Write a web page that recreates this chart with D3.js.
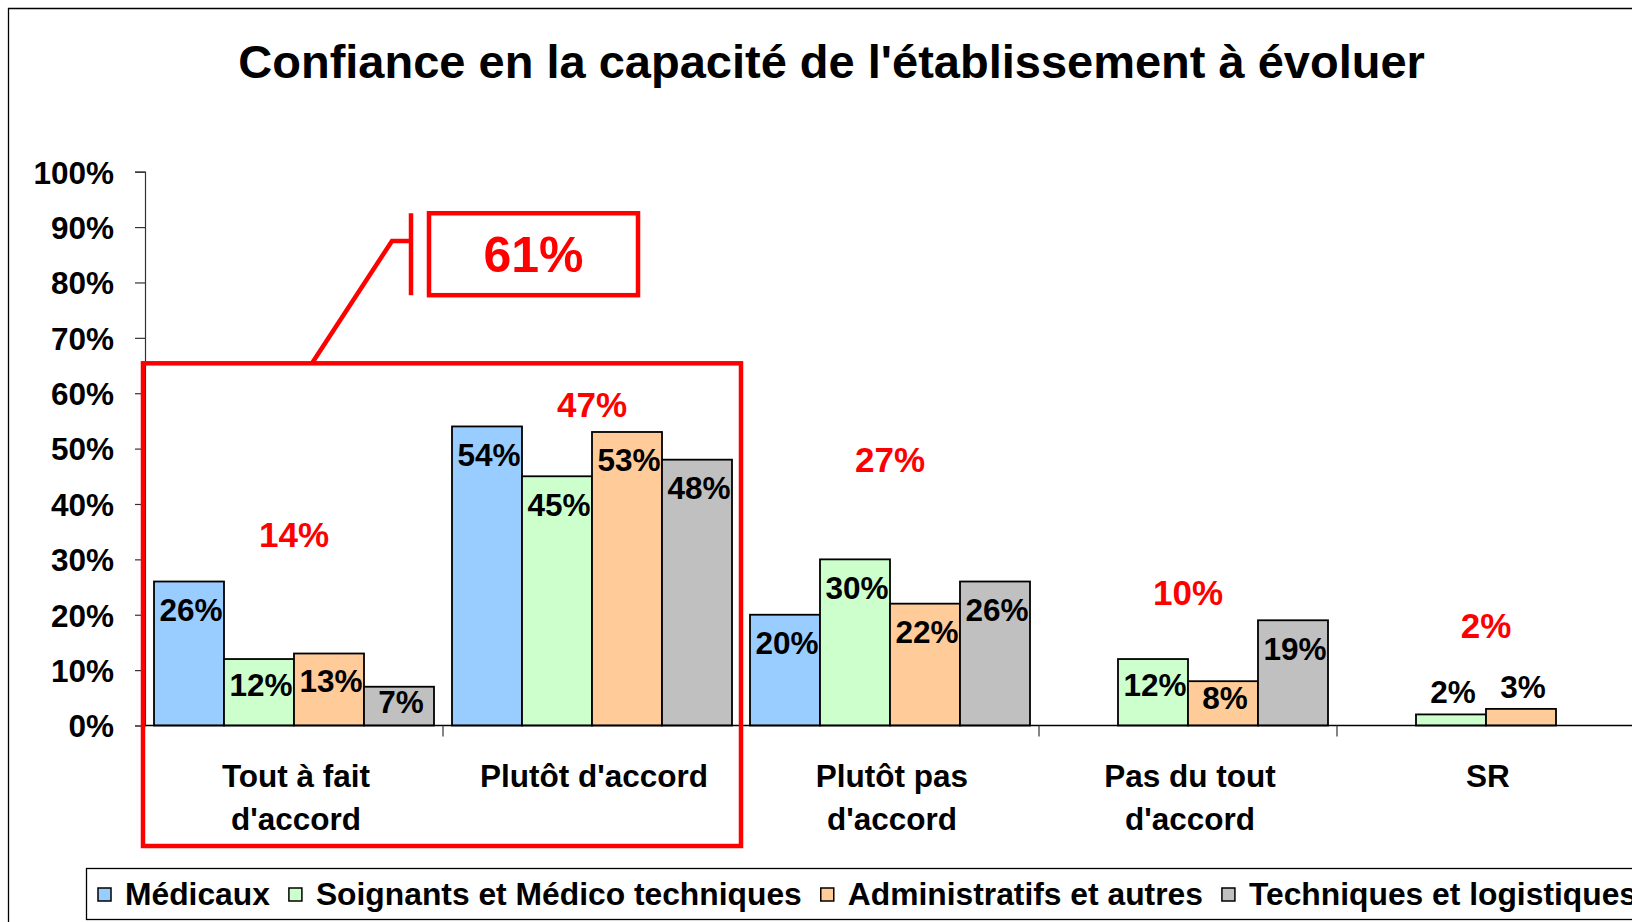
<!DOCTYPE html>
<html>
<head>
<meta charset="utf-8">
<script src="https://cdn.jsdelivr.net/npm/d3@7"></script>
<style>
  html, body { margin: 0; padding: 0; background: #fff; overflow: hidden; }
  svg { display: block; font-family: "Liberation Sans", Arial, sans-serif; }
</style>
</head>
<body>
<svg id="chart" width="1632" height="922"></svg>
<script>
// ---- data ----
const title = "Confiance en la capacité de l'établissement à évoluer";
const categories = ["Tout à fait\nd'accord", "Plutôt d'accord", "Plutôt pas\nd'accord", "Pas du tout\nd'accord", "SR"];
const seriesNames = ["Médicaux", "Soignants et Médico techniques", "Administratifs et autres", "Techniques et logistiques"];
const medicaux       = [26, 54, 20, null, null];
const soignants      = [12, 45, 30, 12, 2];
const administratifs = [13, 53, 22, 8, 3];
const techniques     = [7, 48, 26, 19, null];
const totals         = [14, 47, 27, 10, 2];
const totalLabelLevel = [34.5, 58, 48, 24, 18];   // value level where each red total sits
const groupedTotal = 61;                          // Tout à fait + Plutôt d'accord
const yTicks = [0, 10, 20, 30, 40, 50, 60, 70, 80, 90, 100];
const seriesColors = ["#99CCFF", "#CCFFCC", "#FFCC99", "#C0C0C0"];

const seriesValues = [medicaux, soignants, administratifs, techniques];

// ---- layout ----
const svg = d3.select("#chart");
const axisX = 145, plotRight = 145 + 5 * 298;
const y = d3.scaleLinear().domain([0, 100]).range([725.5, 171.7]);
const x0 = d3.scaleBand().domain(categories).range([axisX, plotRight]).paddingInner(0.0604).paddingOuter(0.0302);
const x1 = d3.scaleBand().domain(seriesNames).range([0, x0.bandwidth()]);
const RED = "#FF0000";
const FS = 31.5;

// outer chart border (right/bottom cut off)
svg.append("path").attr("d", "M8.5,922 V8.5 H1632").attr("fill", "none").attr("stroke", "#000").attr("stroke-width", 1.3);

// title
svg.append("text").attr("x", 831.6).attr("y", 78).attr("text-anchor", "middle")
  .attr("font-size", 47).attr("font-weight", "bold").text(title);

// y axis
const yAxis = d3.axisLeft(y).tickValues(yTicks).tickFormat(d => d + "%").tickSize(10).tickPadding(21);
const gy = svg.append("g").attr("transform", `translate(${axisX},0)`).call(yAxis);
gy.select(".domain").attr("stroke", "#333").attr("stroke-width", 1.2);
gy.selectAll(".tick line").attr("stroke", "#333").attr("stroke-width", 1.2);
gy.selectAll(".tick text").attr("font-size", FS).attr("font-weight", "bold").attr("fill", "#000")
  .attr("font-family", "'Liberation Sans', Arial, sans-serif").attr("dy", "0.36em");

// bars
const rows = [];
categories.forEach((c, ci) => {
  seriesNames.forEach((s, si) => {
    const v = seriesValues[si][ci];
    if (v !== null && v !== undefined) rows.push({c, s, si, v});
  });
});

svg.append("g").selectAll("rect").data(rows).join("rect")
  .attr("x", d => x0(d.c) + x1(d.s))
  .attr("y", d => y(d.v))
  .attr("width", x1.bandwidth())
  .attr("height", d => y(0) - y(d.v))
  .attr("fill", d => seriesColors[d.si])
  .attr("stroke", "#000").attr("stroke-width", 1.8);

// x axis
svg.append("line").attr("x1", axisX).attr("x2", 1632).attr("y1", y(0)).attr("y2", y(0))
  .attr("stroke", "#000").attr("stroke-width", 1.5);
const bounds = d3.range(1, categories.length).map(i => axisX + i * x0.step());
svg.append("g").selectAll("line").data(bounds).join("line")
  .attr("x1", d => d).attr("x2", d => d).attr("y1", y(0)).attr("y2", y(0) + 11)
  .attr("stroke", "#333").attr("stroke-width", 1.2);

// category labels
const catG = svg.append("g");
categories.forEach(c => {
  const lines = c.split("\n");
  const t = catG.append("text").attr("text-anchor", "middle").attr("font-size", FS).attr("font-weight", "bold");
  lines.forEach((ln, i) => {
    t.append("tspan").attr("x", x0(c) + x0.bandwidth() / 2 + 2).attr("y", 787 + i * 42.5).text(ln);
  });
});

// bar value labels
const cap = FS * 0.716;
svg.append("g").selectAll("text").data(rows).join("text")
  .attr("x", d => x0(d.c) + x1(d.s) + x1.bandwidth() / 2 + 2)
  .attr("y", d => {
    const h = y(0) - y(d.v);
    if (d.v < 5) return y(d.v) - 11;
    return y(d.v) + Math.min(28, h * 0.38) + cap / 2;
  })
  .attr("text-anchor", "middle").attr("font-size", FS).attr("font-weight", "bold").attr("fill", "#000")
  .text(d => d.v + "%");

// red totals
svg.append("g").selectAll("text").data(categories).join("text")
  .attr("x", c => x0(c) + x0.bandwidth() / 2)
  .attr("y", (c, i) => y(totalLabelLevel[i]) + 35 * 0.716 / 2)
  .attr("text-anchor", "middle").attr("font-size", 35).attr("font-weight", "bold").attr("fill", RED)
  .text((c, i) => totals[i] + "%");

// grouping annotation around first two categories
const encLeft = axisX - 2, encRight = axisX + 2 * x0.step();
const encTop = y(65.4), encBottom = 846;
svg.append("rect").attr("x", encLeft).attr("y", encTop).attr("width", encRight - encLeft).attr("height", encBottom - encTop)
  .attr("fill", "none").attr("stroke", RED).attr("stroke-width", 4.5);

const boxLeft = encLeft + 286, boxRight = encLeft + 495;
const boxTop = y(92.5), boxBottom = y(77.7);
svg.append("rect").attr("x", boxLeft).attr("y", boxTop).attr("width", boxRight - boxLeft).attr("height", boxBottom - boxTop)
  .attr("fill", "#fff").attr("stroke", RED).attr("stroke-width", 4.5);
svg.append("text").attr("x", (boxLeft + boxRight) / 2).attr("y", (boxTop + boxBottom) / 2 + 50 * 0.716 / 2)
  .attr("text-anchor", "middle").attr("font-size", 50).attr("font-weight", "bold").attr("fill", RED)
  .text(groupedTotal + "%");

// leader line
const jointY = y(87.5);
const barX = boxLeft - 18;
svg.append("path")
  .attr("d", `M${encLeft + 169},${encTop} L${barX - 19},${jointY} H${barX}`)
  .attr("fill", "none").attr("stroke", RED).attr("stroke-width", 4.5);
svg.append("line").attr("x1", barX).attr("x2", barX).attr("y1", boxTop).attr("y2", boxBottom)
  .attr("stroke", RED).attr("stroke-width", 4.5);

// legend
const lg = svg.append("g");
lg.append("rect").attr("x", 86.5).attr("y", 868.5).attr("width", 1700).attr("height", 51)
  .attr("fill", "#fff").attr("stroke", "#000").attr("stroke-width", 1.3);
let lx = 98;
seriesNames.forEach((s, i) => {
  lg.append("rect").attr("x", lx).attr("y", 888).attr("width", 13).attr("height", 13)
    .attr("fill", seriesColors[i]).attr("stroke", "#000").attr("stroke-width", 1.5);
  const t = lg.append("text").attr("x", lx + 27).attr("y", 905).attr("font-size", 31.8).attr("font-weight", "bold").text(s);
  lx = lx + 27 + t.node().getComputedTextLength() + 19;
});
</script>
</body>
</html>
